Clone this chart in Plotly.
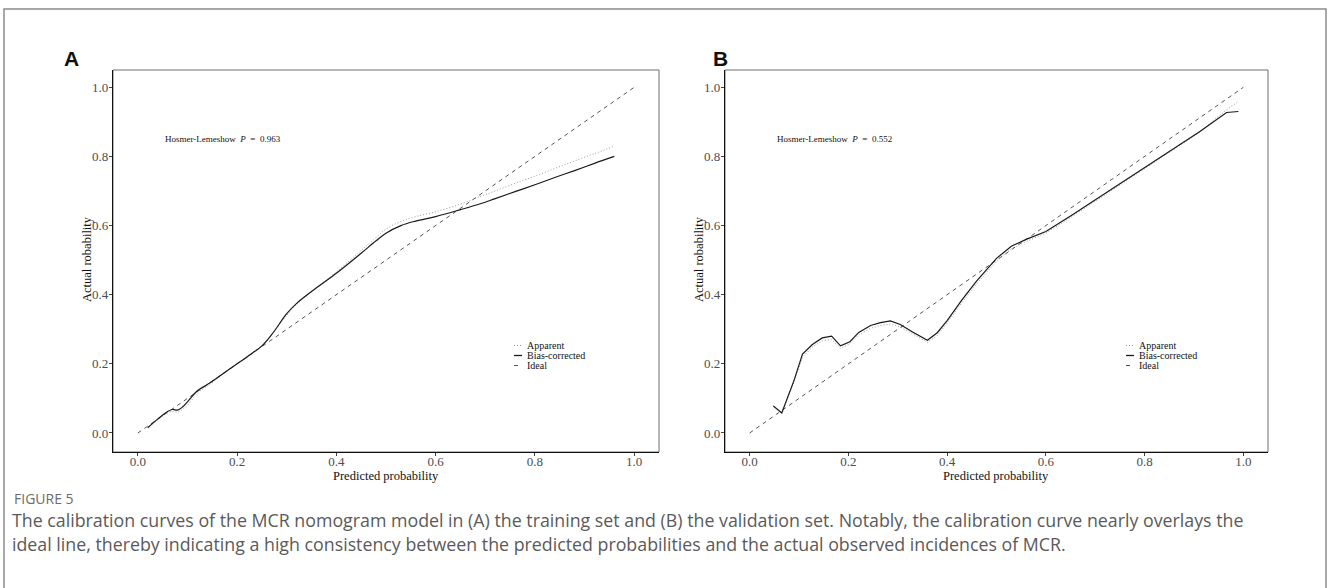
import plotly.graph_objects as go

# ---------------- data ----------------
ticks = [0.0, 0.2, 0.4, 0.6, 0.8, 1.0]
tick_labels = ["0.0", "0.2", "0.4", "0.6", "0.8", "1.0"]
ideal = [0.0, 1.0]

xA = [0.02, 0.04, 0.06, 0.07, 0.08, 0.09, 0.10, 0.12, 0.14, 0.16, 0.18, 0.20, 0.22, 0.25, 0.27,
      0.30, 0.32, 0.36, 0.40, 0.45, 0.48, 0.50, 0.53, 0.56, 0.60, 0.65, 0.69, 0.72, 0.76, 0.80,
      0.84, 0.88, 0.92, 0.96]
biasA = [0.015, 0.040, 0.062, 0.068, 0.066, 0.075, 0.090, 0.122, 0.140, 0.160, 0.180, 0.200, 0.220,
         0.252, 0.285, 0.345, 0.375, 0.420, 0.462, 0.520, 0.556, 0.578, 0.600, 0.613, 0.626, 0.646,
         0.663, 0.678, 0.698, 0.718, 0.739, 0.759, 0.780, 0.800]
appA = [0.015, 0.038, 0.058, 0.062, 0.060, 0.068, 0.080, 0.115, 0.135, 0.157, 0.180, 0.200, 0.222,
        0.252, 0.285, 0.340, 0.372, 0.420, 0.466, 0.528, 0.565, 0.590, 0.612, 0.626, 0.640, 0.662,
        0.684, 0.700, 0.722, 0.743, 0.765, 0.787, 0.808, 0.830]

xB = [0.048, 0.065, 0.09, 0.107, 0.127, 0.147, 0.166, 0.184, 0.203, 0.221, 0.245, 0.265, 0.285,
      0.305, 0.33, 0.36, 0.38, 0.40, 0.43, 0.46, 0.50, 0.53, 0.56, 0.60, 0.65, 0.71, 0.76, 0.80,
      0.85, 0.912, 0.94, 0.966, 0.99]
biasB = [0.078, 0.058, 0.153, 0.228, 0.256, 0.275, 0.280, 0.252, 0.264, 0.291, 0.311, 0.319, 0.324,
         0.314, 0.292, 0.268, 0.290, 0.325, 0.385, 0.440, 0.505, 0.540, 0.560, 0.583, 0.628, 0.683,
         0.729, 0.766, 0.814, 0.872, 0.900, 0.927, 0.930]
appB = [0.078, 0.058, 0.148, 0.220, 0.248, 0.267, 0.270, 0.245, 0.258, 0.284, 0.303, 0.311, 0.315,
        0.307, 0.287, 0.262, 0.282, 0.318, 0.377, 0.432, 0.497, 0.533, 0.554, 0.578, 0.623, 0.680,
        0.726, 0.763, 0.811, 0.870, 0.905, 0.935, 0.959]

hl_A = "0.963"
hl_B = "0.552"
legend_names = ["Apparent", "Bias-corrected", "Ideal"]
caption_title = "FIGURE 5"
caption_lines = [
    "The calibration curves of the MCR nomogram model in (A) the training set and (B) the validation set. Notably, the calibration curve nearly overlays the",
    "ideal line, thereby indicating a high consistency between the predicted probabilities and the actual observed incidences of MCR.",
]

# ---------------- layout helpers ----------------
W, H = 1330, 588
SERIF = "Liberation Serif, Times New Roman, serif"
DOT = "1px,2px"
DASH = "4px,4px"
C_APP = "#9a9a9a"
C_BIAS = "#1a1a1a"
C_IDEAL = "#555555"


def px(x):
    return x / W


def py(y):
    return 1 - y / H


fig = go.Figure()

panels = [
    dict(xa="x", ya="y", x=xA, bias=biasA, app=appA, smooth="spline"),
    dict(xa="x2", ya="y2", x=xB, bias=biasB, app=appB, smooth="linear"),
]
for p in panels:
    fig.add_trace(go.Scatter(x=ideal, y=ideal, mode="lines", xaxis=p["xa"], yaxis=p["ya"],
                             line=dict(color=C_IDEAL, width=1, dash=DASH), showlegend=False,
                             name="Ideal"))
    fig.add_trace(go.Scatter(x=p["x"], y=p["app"], mode="lines", xaxis=p["xa"], yaxis=p["ya"],
                             line=dict(color=C_APP, width=1, dash=DOT, shape=p["smooth"]),
                             showlegend=False, name="Apparent"))
    fig.add_trace(go.Scatter(x=p["x"], y=p["bias"], mode="lines", xaxis=p["xa"], yaxis=p["ya"],
                             line=dict(color=C_BIAS, width=1.2, shape=p["smooth"]),
                             showlegend=False, name="Bias-corrected"))

ydom = [py(452), py(70)]
axis_common = dict(
    range=[-0.05, 1.05], tickvals=ticks, ticktext=tick_labels, showgrid=False, zeroline=False,
    showline=True, linecolor="#111111", linewidth=1.3, ticks="outside", ticklen=3,
    tickcolor="#444444", tickwidth=1, tickfont=dict(family=SERIF, size=13, color="#4d4d4d"),
    fixedrange=True,
)
xaxis_extra = dict(ticklabelstandoff=-6)
yaxis_extra = dict(range=[-0.055, 1.05], ticklabelstandoff=-2)
fig.update_layout(
    width=W, height=H, margin=dict(l=0, r=0, t=0, b=0),
    paper_bgcolor="white", plot_bgcolor="white", showlegend=False,
    xaxis=dict(domain=[px(113), px(659)], anchor="y", **{**axis_common, **xaxis_extra}),
    yaxis=dict(domain=ydom, anchor="x", **{**axis_common, **yaxis_extra}),
    xaxis2=dict(domain=[px(725), px(1268)], anchor="y2", **{**axis_common, **xaxis_extra}),
    yaxis2=dict(domain=ydom, anchor="x2", **{**axis_common, **yaxis_extra}),
)

shapes = []
annotations = []

# outer figure frame
shapes.append(dict(type="rect", xref="paper", yref="paper", x0=px(4), x1=px(1326), y0=py(640),
                   y1=py(9), line=dict(color="#8c8c8c", width=1.5), layer="below"))

panel_info = [
    dict(xa="x", ya="y", letter="A", lx=62, hl=hl_A, hlx=163, ttlx=386, ylx=87,
         leg_x0=514, leg_x1=522, leg_tx=526),
    dict(xa="x2", ya="y2", letter="B", lx=711, hl=hl_B, hlx=775, ttlx=996, ylx=699,
         leg_x0=1126, leg_x1=1134, leg_tx=1138),
]
for p in panel_info:
    # panel box (grey top/right)
    shapes.append(dict(type="rect", xref=p["xa"] + " domain", yref=p["ya"] + " domain",
                       x0=0, x1=1, y0=0, y1=1, line=dict(color="#6e6e6e", width=1), layer="below"))
    # panel letter
    annotations.append(dict(text="<b>%s</b>" % p["letter"], xref="paper", yref="paper",
                            x=px(p["lx"]), y=py(58), xanchor="left", yanchor="middle",
                            showarrow=False,
                            font=dict(family="Liberation Sans, Arial, sans-serif", size=21,
                                      color="#111111")))
    # Hosmer-Lemeshow text
    annotations.append(dict(text="Hosmer-Lemeshow&nbsp; <i>P</i>&nbsp; =&nbsp; %s" % p["hl"],
                            xref="paper", yref="paper", x=px(p["hlx"]), y=py(139),
                            xanchor="left", yanchor="middle", showarrow=False,
                            font=dict(family=SERIF, size=9, color="#111111")))
    # axis titles
    annotations.append(dict(text="Predicted probability", xref="paper", yref="paper",
                            x=px(p["ttlx"]), y=py(476), xanchor="center", yanchor="middle",
                            showarrow=False, font=dict(family=SERIF, size=12.5, color="#111111")))
    annotations.append(dict(text="Actual robability", xref="paper", yref="paper",
                            x=px(p["ylx"]), y=py(259), xanchor="center", yanchor="middle",
                            textangle=-90, showarrow=False,
                            font=dict(family=SERIF, size=12.5, color="#111111")))
    # legend
    styles = [dict(color=C_APP, width=1, dash=DOT), dict(color=C_BIAS, width=1.3),
              dict(color=C_IDEAL, width=1, dash=DASH)]
    for i, (name, st) in enumerate(zip(legend_names, styles)):
        yy = 345.5 + 10 * i
        shapes.append(dict(type="line", xref="paper", yref="paper", x0=px(p["leg_x0"]),
                           x1=px(p["leg_x1"]), y0=py(yy), y1=py(yy), line=st))
        annotations.append(dict(text=name, xref="paper", yref="paper", x=px(p["leg_tx"]),
                                y=py(yy), xanchor="left", yanchor="middle", showarrow=False,
                                borderpad=0,
                                font=dict(family=SERIF, size=10, color="#111111")))

# caption
annotations.append(dict(text=caption_title, xref="paper", yref="paper", x=px(12), y=py(498),
                        xanchor="left", yanchor="middle", showarrow=False,
                        font=dict(family="Open Sans, sans-serif", size=14, color="#6b6b6b")))
for i, line in enumerate(caption_lines):
    annotations.append(dict(text=line, xref="paper", yref="paper", x=px(11),
                            y=py(520 + 23.5 * i), xanchor="left", yanchor="middle",
                            showarrow=False, borderpad=0,
                            font=dict(family="Open Sans, sans-serif", size=17.8, color="#5a5a5a")))

fig.update_layout(shapes=shapes, annotations=annotations)
fig.write_html("out.html")
